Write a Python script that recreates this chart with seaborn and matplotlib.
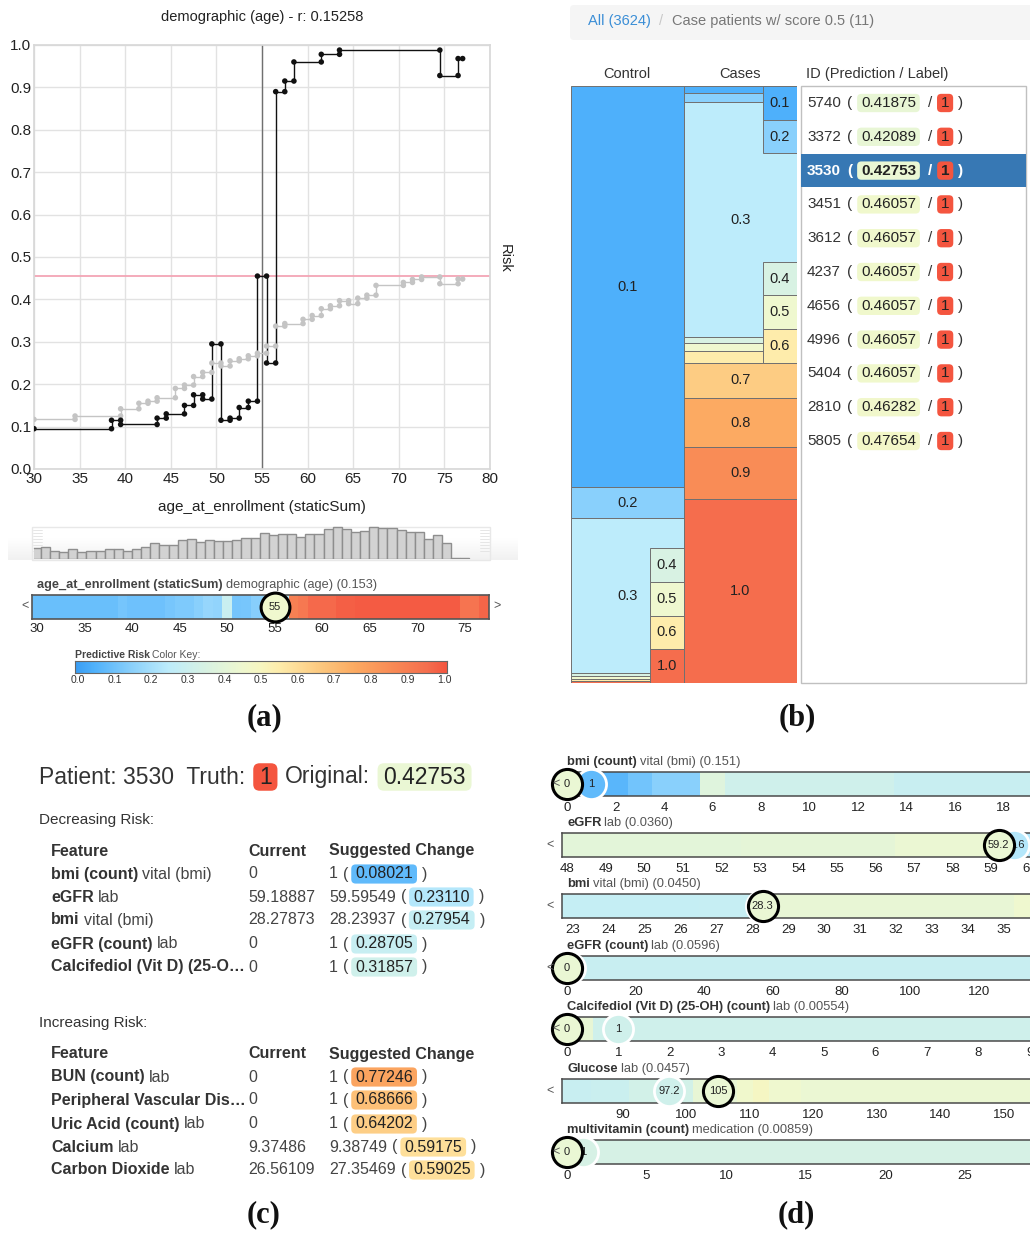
import numpy as np
import matplotlib
matplotlib.use("Agg")
import matplotlib.pyplot as plt
import seaborn as sns
from matplotlib.colors import LinearSegmentedColormap
from matplotlib.patches import FancyBboxPatch, Rectangle

sns.set_theme(style="white")
plt.rcParams["font.family"] = ["Liberation Sans", "DejaVu Sans"]

# ---------------------------------------------------------------- data
risk_stops = [0.0, 0.05, 0.15, 0.25, 0.35, 0.45, 0.5, 0.55, 0.65, 0.75, 0.85, 0.95, 1.0]
risk_colors = ["#3a9df3", "#4fb1fb", "#8ad0fc", "#bdecfb", "#d8f2e3", "#eff8cf", "#f7f6c0",
               "#feecab", "#fdcc83", "#fcab62", "#f98c56", "#f56e4e", "#f4553f"]

# partial dependence of risk on age: this patient (black) and population mean (grey)
age_edges = [30, 38.5, 39.5, 43.5, 44.5, 46.5, 47.5, 48.5, 49.5, 50.5, 51.5, 52.5, 53.5,
             54.5, 55.5, 56.5, 57.5, 58.5, 61.5, 63.5, 74.5, 76.5, 77]
patient_risk = [0.095, 0.115, 0.105, 0.12, 0.13, 0.15, 0.175, 0.165, 0.295, 0.115, 0.12,
                0.145, 0.16, 0.455, 0.25, 0.89, 0.915, 0.96, 0.978, 0.988, 0.928, 0.968]
mean_edges = [30, 34.5, 39.5, 41.5, 42.5, 43.5, 45.5, 46.5, 47.5, 48.5, 49.5, 50.5, 51.5,
              52.5, 53.5, 54.5, 55.5, 56.5, 57.5, 59.5, 60.5, 61.5, 62.5, 63.5, 64.5, 65.5,
              66.5, 67.5, 70.5, 71.5, 72.5, 74.5, 76.5, 77]
mean_risk = [0.117, 0.125, 0.142, 0.155, 0.16, 0.168, 0.19, 0.198, 0.218, 0.228, 0.25,
             0.243, 0.255, 0.26, 0.267, 0.273, 0.29, 0.337, 0.343, 0.353, 0.362, 0.378,
             0.385, 0.397, 0.39, 0.403, 0.41, 0.433, 0.44, 0.447, 0.453, 0.437, 0.448]
patient_age = 55
corr_r = 0.15258

hist_ages = np.arange(30, 78)
hist_counts = [32, 36, 25, 21, 29, 22, 23, 23, 28, 28, 23, 30, 36, 46, 42, 41, 57, 60, 49, 56,
               53, 53, 57, 61, 61, 76, 71, 75, 74, 64, 74, 73, 87, 94, 88, 80, 83, 93, 91, 90,
               84, 80, 80, 60, 72, 48, 2, 2]

# patients per predicted-risk bin
control_bins = [0.1, 0.2, 0.3, 0.4, 0.5, 0.6, 1.0]
control_counts = [1897, 147, 733, 14, 14, 10, 9]
case_bins = [0.1, 0.2, 0.3, 0.4, 0.5, 0.6, 0.7, 0.8, 0.9, 1.0]
case_counts = [9, 13, 315, 7, 11, 16, 47, 66, 70, 246]

list_ids = ["5740", "3372", "3530", "3451", "3612", "4237", "4656", "4996", "5404", "2810", "5805"]
list_preds = [0.41875, 0.42089, 0.42753, 0.46057, 0.46057, 0.46057, 0.46057, 0.46057,
              0.46057, 0.46282, 0.47654]
list_labels = [1] * 11
selected_id = "3530"
original_pred = 0.42753

dec_feat_bold = ["bmi (count)", "eGFR", "bmi", "eGFR (count)", "Calcifediol (Vit D) (25-O\u2026"]
dec_feat_rest = ["vital (bmi)", "lab", "vital (bmi)", "lab", ""]
dec_current = ["0", "59.18887", "28.27873", "0", "0"]
dec_suggested = ["1", "59.59549", "28.23937", "1", "1"]
dec_new_risk = [0.08021, 0.23110, 0.27954, 0.28705, 0.31857]

inc_feat_bold = ["BUN (count)", "Peripheral Vascular Dis\u2026", "Uric Acid (count)", "Calcium", "Carbon Dioxide"]
inc_feat_rest = ["lab", "", "lab", "lab", "lab"]
inc_current = ["0", "0", "0", "9.37486", "26.56109"]
inc_suggested = ["1", "1", "1", "9.38749", "27.35469"]
inc_new_risk = [0.77246, 0.68666, 0.64202, 0.59175, 0.59025]

# per-feature risk strips
strip_bold = ["bmi (count)", "eGFR", "bmi", "eGFR (count)", "Calcifediol (Vit D) (25-OH) (count)",
              "Glucose", "multivitamin (count)"]
strip_rest = ["vital (bmi) (0.151)", "lab (0.0360)", "vital (bmi) (0.0450)", "lab (0.0596)",
              "lab (0.00554)", "lab (0.0457)", "medication (0.00859)"]
bmi_count_edges = [-0.5, 0.5, 2.5, 3.5, 5.5, 6.5, 13.5, 20]
bmi_count_risk = [0.43, 0.07, 0.11, 0.15, 0.38, 0.32, 0.29]
egfr_edges = [47.5, 52.5, 56.5, 59.45, 61]
egfr_risk = [0.40, 0.41, 0.43, 0.23]
bmi_edges = [22.5, 26.5, 28.25, 35.3, 36.5]
bmi_risk = [0.28, 0.285, 0.42, 0.45]
egfr_count_edges = [-2, 0.5, 140]
egfr_count_risk = [0.43, 0.29]
vitd_count_edges = [-0.5, 0.5, 9.5]
vitd_count_risk = [0.42, 0.32]
glucose_edges = [80, 85, 91, 101, 108, 110.5, 113, 118, 156]
glucose_risk = [0.29, 0.30, 0.33, 0.42, 0.46, 0.49, 0.45, 0.43]
multivit_edges = [-0.5, 0.5, 30]
multivit_risk = [0.43, 0.34]
strip_current = [0, 59.18887, 28.27873, 0, 0, 105, 0]
strip_current_label = ["0", "59.2", "28.3", "0", "0", "105", "0"]
strip_suggested = [1, 59.59549, 28.23937, 1, 1, 97.2, 1]
strip_suggested_label = ["1", "59.6", "28.2", "1", "1", "97.2", "1"]
strip_suggested_risk = [0.08021, 0.23110, 0.27954, 0.28705, 0.31857, 0.32, 0.34]

# ---------------------------------------------------------------- figure
W, H = 1030, 1238
fig = plt.figure(figsize=(W / 100, H / 100), dpi=100)
fig.patch.set_facecolor("white")
cmap = LinearSegmentedColormap.from_list("risk", list(zip(risk_stops, risk_colors)))


def px_axes(x0, y0, x1, y1, **kw):
    return fig.add_axes([x0 / W, 1 - y1 / H, (x1 - x0) / W, (y1 - y0) / H], **kw)


def overlay(z):
    a = px_axes(0, 0, W, H, zorder=z)
    a.set_xlim(0, W)
    a.set_ylim(H, 0)
    a.axis("off")
    a.patch.set_alpha(0)
    return a


bg = overlay(-5)
ov = overlay(20)
renderer = fig.canvas.get_renderer()


def rich(x, y, parts, size, ax=ov):
    """Draw a run of text pieces left to right; pieces with 'bg' get a badge."""
    em = size * 100 / 72
    for p in parts:
        hp = 0.25 * em if p.get("bg") is not None else 0
        t = ax.text(x + hp, y, p["t"], fontsize=size, fontweight=p.get("w", "normal"),
                    color=p.get("c", "#333333"), ha="left", va="center", zorder=4)
        bb = t.get_window_extent(renderer)
        if p.get("bg") is not None:
            bh = 1.2 * em
            cy = H - (bb.y0 + bb.y1) / 2
            ax.add_patch(FancyBboxPatch((x, cy - bh / 2), bb.width + 2 * hp, bh,
                                        boxstyle=f"round,pad=0,rounding_size={0.28 * em}",
                                        fc=p["bg"], ec="none", zorder=3))
        x += bb.width + 2 * hp + p.get("gap", 0)
    return x


def panel_label(x, y, s):
    ov.text(x, y, s, fontsize=22, fontweight="bold", family="Liberation Serif",
            ha="center", va="center", color="#111111")


def step_points(edges, vals):
    xs, ys = [], []
    for i, e in enumerate(edges):
        if i > 0:
            xs.append(e); ys.append(vals[i - 1])
        if i < len(vals):
            xs.append(e); ys.append(vals[i])
    return np.array(xs), np.array(ys)


# ================================================================ (a)
ax = px_axes(34, 45, 490, 469)
ax.set_facecolor("white")
sns.lineplot(x=mean_edges, y=list(mean_risk) + [mean_risk[-1]], drawstyle="steps-post",
             color="#c4c4c4", lw=1, estimator=None, ax=ax)
mx, my = step_points(mean_edges, mean_risk)
sns.scatterplot(x=mx, y=my, color="#c4c4c4", s=16, edgecolor="none", ax=ax, zorder=3)
sns.lineplot(x=age_edges, y=list(patient_risk) + [patient_risk[-1]], drawstyle="steps-post",
             color="#111111", lw=1, estimator=None, ax=ax)
px_, py_ = step_points(age_edges, patient_risk)
sns.scatterplot(x=px_, y=py_, color="#111111", s=16, edgecolor="none", ax=ax, zorder=4)
seg = np.searchsorted(age_edges, patient_age, side="right") - 1
risk_now = patient_risk[seg]
ax.axhline(risk_now, color="#f3a5b5", lw=1.3, zorder=1)
ax.axvline(patient_age, color="#707070", lw=1, zorder=1)
ax.set_xlim(30, 80)
ax.set_ylim(0, 1)
ax.set_xticks(range(30, 81, 5))
ax.set_yticks(np.round(np.arange(0, 1.01, 0.1), 1))
ax.set_yticklabels([f"{v:.1f}" for v in np.arange(0, 1.01, 0.1)])
ax.grid(True, color="#e2e2e2", lw=1)
ax.set_axisbelow(True)
for s in ax.spines.values():
    s.set_color("#d8d8d8")
ax.tick_params(length=0, labelsize=11, pad=2, colors="#222222")
ax.set_xlabel("")
ax.set_ylabel("")
ov.text(262, 17, f"demographic (age) - r: {corr_r:.5f}", fontsize=10.5, ha="center",
        va="center", color="#222222")
ov.text(505, 258, "Risk", fontsize=10.5, rotation=270, ha="center", va="center", color="#222222")
ov.text(262, 507, "age_at_enrollment (staticSum)", fontsize=11, ha="center", va="center",
        color="#222222")

# histogram of ages
band = np.linspace(0, 1, 50)[:, None]
bg.imshow(band, extent=(8, 518, 560, 538), aspect="auto",
          cmap=LinearSegmentedColormap.from_list("band", ["#ffffff", "#f1f1f1"]), zorder=0)
bg.set_xlim(0, W)
bg.set_ylim(H, 0)
bg.add_patch(Rectangle((32, 527), 458, 33, fc="none", ec="#e8e8e8", lw=1, zorder=1))
for hx in (33, 480):
    for k in range(8):
        bg.plot([hx, hx + 9], [530 + 3 * k, 530 + 3 * k], color="#e2e2e2", lw=0.6, zorder=1)
ha = px_axes(34, 525, 490, 559)
ha.patch.set_alpha(0)
sns.histplot(x=np.repeat(hist_ages, hist_counts), bins=np.arange(29.75, 78.0, 1.0),
             color="#d2d2d2", edgecolor="#8e8e8e", linewidth=1, alpha=1, ax=ha)
ha.set_xlim(30, 80)
ha.set_ylim(0, 100)
ha.axis("off")

# risk strip along age
sa = px_axes(32, 595, 489, 619)
s_lo, s_hi = 29.47, 77.55
se = np.array(age_edges, float)
se[0], se[-1] = s_lo, s_hi
sa.bar(se[:-1], 1, width=np.diff(se), align="edge", color=cmap(np.array(patient_risk)), lw=0)
sa.set_xlim(s_lo, s_hi)
sa.set_ylim(0, 1)
sa.set_yticks([])
sa.set_xticks(range(30, 76, 5))
sa.tick_params(length=0, labelsize=9.5, pad=3, colors="#222222")
for s in sa.spines.values():
    s.set_color("#555555"); s.set_linewidth(1.2)
sa.scatter([patient_age], [0.5], s=430, fc=cmap(risk_now), ec="black", lw=2.2, zorder=5,
           clip_on=False)
sa.text(patient_age, 0.5, str(patient_age), fontsize=8, ha="center", va="center", zorder=6,
        color="#222222")
rich(37, 585, [{"t": "age_at_enrollment (staticSum)", "w": "bold", "c": "#444444", "gap": 3},
               {"t": "demographic (age) (0.153)", "c": "#555555"}], 9.2)
ov.text(25, 606, "<", fontsize=9, ha="center", va="center", color="#555555")
ov.text(497, 606, ">", fontsize=9, ha="center", va="center", color="#555555")

# colour key
ka = px_axes(75, 661, 447, 673)
k_lo, k_hi = -0.0082, 1.0082
ka.imshow(np.linspace(0, 1, 256)[None, :], aspect="auto", cmap=cmap, extent=(k_lo, k_hi, 0, 1))
ka.set_xlim(k_lo, k_hi)
ka.set_yticks([])
ka.set_xticks(np.round(np.arange(0, 1.01, 0.1), 1))
ka.set_xticklabels([f"{v:.1f}" for v in np.arange(0, 1.01, 0.1)])
ka.tick_params(length=0, labelsize=7.5, pad=1.5, colors="#333333")
for s in ka.spines.values():
    s.set_color("#666666"); s.set_linewidth(0.8)
rich(75, 655, [{"t": "Predictive Risk", "w": "bold", "c": "#444444", "gap": 2},
               {"t": "Color Key:", "c": "#555555"}], 7.5)
panel_label(264, 718, "(a)")

# ================================================================ (b)
bg.add_patch(FancyBboxPatch((570, 5), 470, 35, boxstyle="round,pad=0,rounding_size=4",
                            fc="#f5f5f5", ec="none"))
rich(588, 21, [{"t": "All (3624)", "c": "#3b8ed6", "gap": 8},
               {"t": "/", "c": "#c8c8c8", "gap": 9},
               {"t": "Case patients w/ score 0.5 (11)", "c": "#777777"}], 10.5)
for label, xc in (("Control", 627), ("Cases", 740), ("ID (Prediction / Label)", 877)):
    ov.text(xc, 74, label, fontsize=10.5, ha="center", va="center", color="#333333")

ma = px_axes(571, 86, 797, 683)
ma.set_xlim(0, 2)
ma.set_ylim(1, 0)
ma.axis("off")


def mosaic_column(x0, width, bins, counts, side_w=0.30, cell=0.0565, small=0.03):
    counts = np.asarray(counts, float)
    frac = counts / counts.sum()
    bottoms = np.r_[0, np.cumsum(frac)[:-1]]
    cols = [cmap(b - 0.05) for b in bins]
    ma.bar(np.full(len(bins), x0), frac, width=width, bottom=bottoms, align="edge",
           color=cols, edgecolor="#707070", linewidth=0.7)
    for b, f, bt in zip(bins, frac, bottoms):
        if f >= small:
            ma.text(x0 + width / 2, bt + f / 2, f"{b:.1f}", fontsize=10.5, ha="center",
                    va="center", color="#222222")
    runs, cur = [], []
    for i, f in enumerate(frac):
        if f < small:
            cur.append(i)
        elif cur:
            runs.append(cur); cur = []
    if cur:
        runs.append(cur)
    for run in runs:
        n = len(run)
        end = bottoms[run[-1]] + frac[run[-1]]
        start = max(0.0, end - n * cell)
        ys = start + cell * np.arange(n)
        ma.bar(np.full(n, x0 + width - side_w), np.full(n, cell), width=side_w, bottom=ys,
               align="edge", color=[cols[i] for i in run], edgecolor="#707070", linewidth=0.7)
        for i, yy in zip(run, ys):
            ma.text(x0 + width - side_w / 2, yy + cell / 2, f"{bins[i]:.1f}", fontsize=10.5,
                    ha="center", va="center", color="#222222")


mosaic_column(0, 1, control_bins, control_counts)
mosaic_column(1, 1, case_bins, case_counts)

bg.add_patch(Rectangle((801, 86), 225, 597, fc="white", ec="#c0c0c0", lw=1))
for i, (pid, pred, lab) in enumerate(zip(list_ids, list_preds, list_labels)):
    y = 103 + 33.8 * i
    sel = pid == selected_id
    if sel:
        bg.add_patch(Rectangle((801, y - 16.5), 225, 33, fc="#3778b4", ec="none", zorder=2))
    tc = "white" if sel else "#333333"
    wt = "bold" if sel else "normal"
    rich(807, y, [{"t": pid, "c": tc, "w": wt, "gap": 6},
                  {"t": "(", "c": tc, "w": wt, "gap": 5},
                  {"t": f"{pred:.5f}", "bg": cmap(pred), "c": "#222222", "w": wt, "gap": 8},
                  {"t": "/", "c": tc, "w": wt, "gap": 5},
                  {"t": str(lab), "bg": cmap(1.0), "c": "#222222", "w": wt, "gap": 5},
                  {"t": ")", "c": tc, "w": wt}], 11)
panel_label(797, 718, "(b)")

# ================================================================ (c)
rich(39, 777, [{"t": "Patient: " + selected_id + "  Truth:", "gap": 8},
               {"t": "1", "bg": cmap(1.0), "c": "#222222", "gap": 7},
               {"t": "Original:", "gap": 8},
               {"t": f"{original_pred:.5f}", "bg": cmap(original_pred), "c": "#222222"}], 16.5)


def change_table(y_title, title, y_head, y_rows, bold, rest, current, suggested, risks):
    ov.text(39, y_title, title, fontsize=11, ha="left", va="center", color="#333333")
    for txt, xx in (("Feature", 51), ("Current", 248), ("Suggested Change", 329)):
        ov.text(xx, y_head, txt, fontsize=11.5, fontweight="bold", ha="left", va="center",
                color="#333333")
    for y, b, r, c, s, rk in zip(y_rows, bold, rest, current, suggested, risks):
        parts = [{"t": b, "w": "bold", "c": "#333333", "gap": 4}]
        if r:
            parts.append({"t": r, "c": "#444444"})
        rich(51, y, parts, 11.5)
        ov.text(248, y, c, fontsize=11.5, ha="left", va="center", color="#444444")
        rich(329, y, [{"t": s, "c": "#444444", "gap": 5},
                      {"t": "(", "c": "#444444", "gap": 3},
                      {"t": f"{rk:.5f}", "bg": cmap(rk), "c": "#222222", "gap": 5},
                      {"t": ")", "c": "#444444"}], 11.5)


change_table(820, "Decreasing Risk:", 851, [874, 897, 920, 944, 967],
             dec_feat_bold, dec_feat_rest, dec_current, dec_suggested, dec_new_risk)
change_table(1023, "Increasing Risk:", 1054, [1077, 1100, 1124, 1147, 1170],
             inc_feat_bold, inc_feat_rest, inc_current, inc_suggested, inc_new_risk)
panel_label(264, 1215, "(c)")

# ================================================================ (d)
strip_edges = [bmi_count_edges, egfr_edges, bmi_edges, egfr_count_edges, vitd_count_edges,
               glucose_edges, multivit_edges]
strip_risks = [bmi_count_risk, egfr_risk, bmi_risk, egfr_count_risk, vitd_count_risk,
               glucose_risk, multivit_risk]
strip_xlim = [(-0.207, 19.34), (47.87, 60.16), (22.69, 35.9), (-1.46, 136.6), (-0.097, 9.12),
              (80.36, 155.1), (-0.31, 29.47)]
strip_ticks = [range(0, 19, 2), range(48, 61), range(23, 36), range(0, 121, 20), range(0, 10),
               range(90, 151, 10), range(0, 26, 5)]
strip_tops = [772, 833, 894, 956, 1017, 1079, 1140]

for k in range(7):
    top = strip_tops[k]
    sx = px_axes(562, top, 1036, top + 24)
    e = np.array(strip_edges[k], float)
    sx.bar(e[:-1], 1, width=np.diff(e), align="edge", color=cmap(np.array(strip_risks[k])), lw=0)
    sx.set_xlim(*strip_xlim[k])
    sx.set_ylim(0, 1)
    sx.set_yticks([])
    sx.set_xticks(list(strip_ticks[k]))
    sx.tick_params(length=0, labelsize=9.5, pad=4, colors="#222222")
    for s in sx.spines.values():
        s.set_color("#4a4a4a"); s.set_linewidth(1.1)
    sx.scatter([strip_suggested[k]], [0.5], s=470, fc=cmap(strip_suggested_risk[k]), ec="white",
               lw=2, zorder=3, clip_on=False)
    sx.text(strip_suggested[k], 0.5, strip_suggested_label[k], fontsize=8, ha="center",
            va="center", color="#222222", zorder=4)
    sx.scatter([strip_current[k]], [0.5], s=470, fc=cmap(original_pred), ec="black", lw=2.2,
               zorder=5, clip_on=False)
    sx.text(strip_current[k], 0.5, strip_current_label[k], fontsize=8, ha="center",
            va="center", color="#222222", zorder=6)
    lo = strip_xlim[k][0]
    ov.text(550 if strip_current[k] > lo + 1 else 556, top + 12, "<", fontsize=9, ha="center",
            va="center", color="#555555")
    rich(567, top - 10, [{"t": strip_bold[k], "w": "bold", "c": "#333333", "gap": 3},
                         {"t": strip_rest[k], "c": "#555555"}], 9.3)
panel_label(796, 1215, "(d)")

fig.savefig("out.png", dpi=100, facecolor="white")
